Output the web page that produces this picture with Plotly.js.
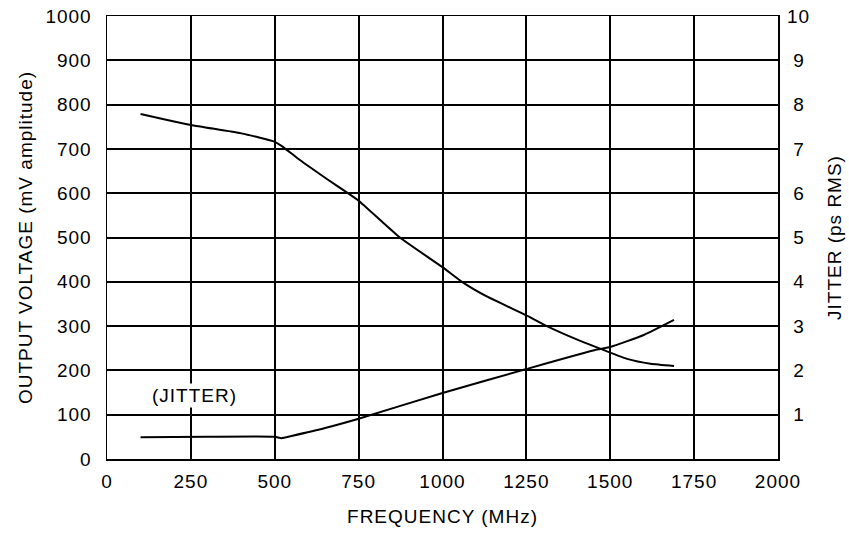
<!DOCTYPE html>
<html>
<head>
<meta charset="utf-8">
<script src="https://cdn.plot.ly/plotly-3.0.1.min.js"></script>
<style>
html,body{margin:0;padding:0;background:#fff;}
#chart{width:849px;height:533px;}
#chart svg text{letter-spacing:1px;}
</style>
</head>
<body>
<div id="chart"></div>
<script>
// Output voltage (mV amplitude) vs frequency (MHz)
var voltFreq = [100, 250, 400, 500, 520, 575, 650, 718, 750, 873, 1000, 1058, 1132, 1250, 1311, 1400, 1460, 1550, 1620, 1690];
var voltVals = [779, 754, 735, 716, 707, 675, 635, 600, 583, 500, 433, 400, 367, 324, 300, 270, 252, 226, 215, 210];
// Jitter (ps RMS) vs frequency (MHz)
var jitFreq = [100, 300, 500, 520, 550, 650, 750, 1000, 1250, 1460, 1500, 1600, 1690];
var jitVals = [0.49, 0.50, 0.50, 0.47, 0.52, 0.70, 0.91, 1.49, 2.03, 2.47, 2.53, 2.80, 3.14];
var xTicks = [0, 250, 500, 750, 1000, 1250, 1500, 1750, 2000];
var yTicks = [0, 100, 200, 300, 400, 500, 600, 700, 800, 900, 1000];
var y2Ticks = [1, 2, 3, 4, 5, 6, 7, 8, 9, 10];

var font = {family: 'Liberation Sans, Arial, Helvetica, sans-serif', size: 19, color: '#000'};

var traces = [
  {x: voltFreq, y: voltVals, type: 'scatter', mode: 'lines',
   line: {color: '#000', width: 2, shape: 'spline', smoothing: 0.5}, yaxis: 'y', hoverinfo: 'skip'},
  {x: jitFreq, y: jitVals, type: 'scatter', mode: 'lines',
   line: {color: '#000', width: 2, shape: 'spline', smoothing: 0.5}, yaxis: 'y2', hoverinfo: 'skip'}
];

var layout = {
  width: 849, height: 533,
  margin: {l: 107, r: 71, t: 16, b: 74},
  paper_bgcolor: '#fff', plot_bgcolor: '#fff',
  showlegend: false,
  font: font,
  xaxis: {
    range: [0, 2000], tickvals: xTicks, ticktext: xTicks.map(String),
    showgrid: true, gridcolor: '#000', gridwidth: 2,
    showline: true, linecolor: '#000', linewidth: 1.5, mirror: true,
    zeroline: false, ticks: '', ticklabelstandoff: 5,
    tickfont: font,
    title: {text: 'FREQUENCY (MHz)', font: font, standoff: 18}
  },
  yaxis: {
    range: [0, 1000], tickvals: yTicks, ticktext: yTicks.map(String),
    showgrid: true, gridcolor: '#000', gridwidth: 2,
    showline: true, linecolor: '#000', linewidth: 1.5, mirror: true,
    zeroline: false, ticks: '', ticklabelstandoff: 10,
    tickfont: font,
    title: {text: 'OUTPUT VOLTAGE (mV amplitude)', font: font, standoff: 12}
  },
  yaxis2: {
    range: [0, 10], tickvals: y2Ticks,
    ticktext: y2Ticks.map(function (v) { return (v < 10 ? '\u00a0' : '') + v; }),
    overlaying: 'y', side: 'right',
    showgrid: false, showline: false, zeroline: false, ticks: '',
    ticklabelstandoff: 8, tickfont: font,
    title: {text: 'JITTER (ps RMS)', font: font, standoff: 20}
  },
  annotations: [
    {x: 260, y: 144, xref: 'x', yref: 'y', text: '(JITTER)', showarrow: false,
     font: font, bgcolor: '#fff'}
  ]
};

Plotly.newPlot('chart', traces, layout, {displayModeBar: false, staticPlot: true});
</script>
</body>
</html>
